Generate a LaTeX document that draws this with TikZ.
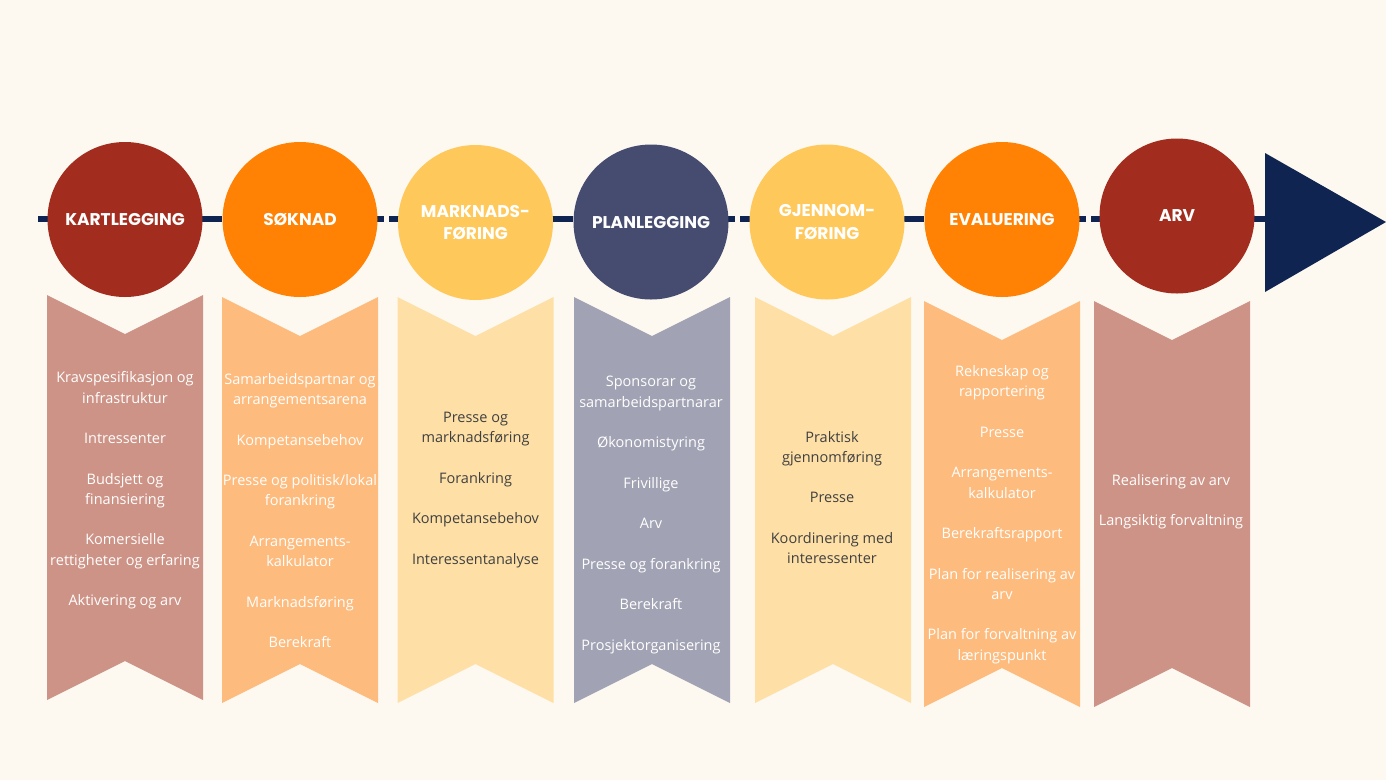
\documentclass[tikz,border=0pt]{standalone}
\usepackage{fontspec}
\setmainfont{Open Sans}
\newfontfamily\headfont{Poppins}
\usetikzlibrary{positioning}

\definecolor{bg}{HTML}{FDF9F1}
\definecolor{navy}{HTML}{0F2451}
\definecolor{rust}{HTML}{A22D1F}
\definecolor{orng}{HTML}{FF8205}
\definecolor{gold}{HTML}{FFC85A}
\definecolor{slate}{HTML}{464B70}
\definecolor{rustlight}{HTML}{CD9386}
\definecolor{orlight}{HTML}{FDBB7D}
\definecolor{goldlight}{HTML}{FEE0A6}
\definecolor{slatelight}{HTML}{A1A2B3}
\definecolor{txtdark}{HTML}{404040}

\tikzset{
  phase/.style={circle, minimum size=155pt, inner sep=0pt, text=white, align=center,
    font=\headfont\bfseries\fontsize{17}{23}\selectfont},
  items/.style={align=center, text=white, font=\fontsize{14.5}{20.25}\selectfont},
}

% ribbon: centre x, top, bottom, colour
\newcommand{\ribbon}[4]{%
  \fill[#4] (#1-78,#2) -- (#1,#2+39) -- (#1+78,#2) -- (#1+78,#3) -- (#1,#3-39) -- (#1-78,#3) -- cycle;}
\newcommand{\gap}{\\[20.25pt]}

\begin{document}
\begin{tikzpicture}[x=1pt,y=-1pt]
  \fill[bg] (0,0) rectangle (1386,780);
  \useasboundingbox (0,0) rectangle (1386,780);

  % timeline
  \coordinate (linestart) at (38,219);
  \coordinate (lineend) at (1266,219);
  \draw[navy, line width=6pt, dash pattern=on 22pt off 5pt] (linestart) -- (lineend);
  \fill[navy] (1265,153) -- (1386,222) -- (1265,292) -- cycle;

  % phases
  \node[phase, fill=rust]  (kart) at (125,219.5) {KARTLEGGING};
  \node[phase, fill=orng]  (sok)  at (300,219.5) {SØKNAD};
  \node[phase, fill=gold]  (mark) at (475.5,222.5) {MARKNADS-\\FØRING};
  \node[phase, fill=slate] (plan) at (651,222) {PLANLEGGING};
  \node[phase, fill=gold]  (gjen) at (827,222) {GJENNOM-\\FØRING};
  \node[phase, fill=orng]  (eval) at (1002,219.5) {EVALUERING};
  \node[phase, fill=rust]  (arv)  at (1177,216) {ARV};

  % ribbons
  \ribbon{125}{295}{700}{rustlight}
  \ribbon{300}{297}{703}{orlight}
  \ribbon{475.5}{297}{703}{goldlight}
  \ribbon{652}{297}{703}{slatelight}
  \ribbon{833}{297}{703}{goldlight}
  \ribbon{1002}{301}{707}{orlight}
  \ribbon{1172}{301}{707}{rustlight}

  \node[items] (kart-items) at (125,490.5) {Kravspesifikasjon og\\infrastruktur\gap
    Intressenter\gap Budsjett og\\finansiering\gap Komersielle\\
    rettigheter og erfaring\gap Aktivering og arv};
  \node[items] (sok-items) at (300,510.5) {Samarbeidspartnar og\\arrangementsarena\gap
    Kompetansebehov\gap Presse og politisk/lokal\\forankring\gap
    Arrangements-\\kalkulator\gap Marknadsføring\gap Berekraft};
  \node[items, text=txtdark] (mark-items) at (475.5,490) {Presse og\\marknadsføring\gap
    Forankring\gap Kompetansebehov\gap Interessentanalyse};
  \node[items] (plan-items) at (651,515) {Sponsorar og\\samarbeidspartnarar\gap
    Økonomistyring\gap Frivillige\gap Arv\gap Presse og forankring\gap
    Berekraft\gap Prosjektorganisering};
  \node[items, text=txtdark] (gjen-items) at (832,497.5) {Praktisk\\gjennomføring\gap
    Presse\gap Koordinering med\\interessenter};
  \node[items] (eval-items) at (1002,514.5) {Rekneskap og\\rapportering\gap
    Presse\gap Arrangements-\\kalkulator\gap Berekraftsrapport\gap
    Plan for realisering av\\arv\gap Plan for forvaltning av\\læringspunkt};
  \node[items] (arv-items) at (1171,501.5) {Realisering av arv\gap Langsiktig forvaltning};
\end{tikzpicture}
\end{document}
